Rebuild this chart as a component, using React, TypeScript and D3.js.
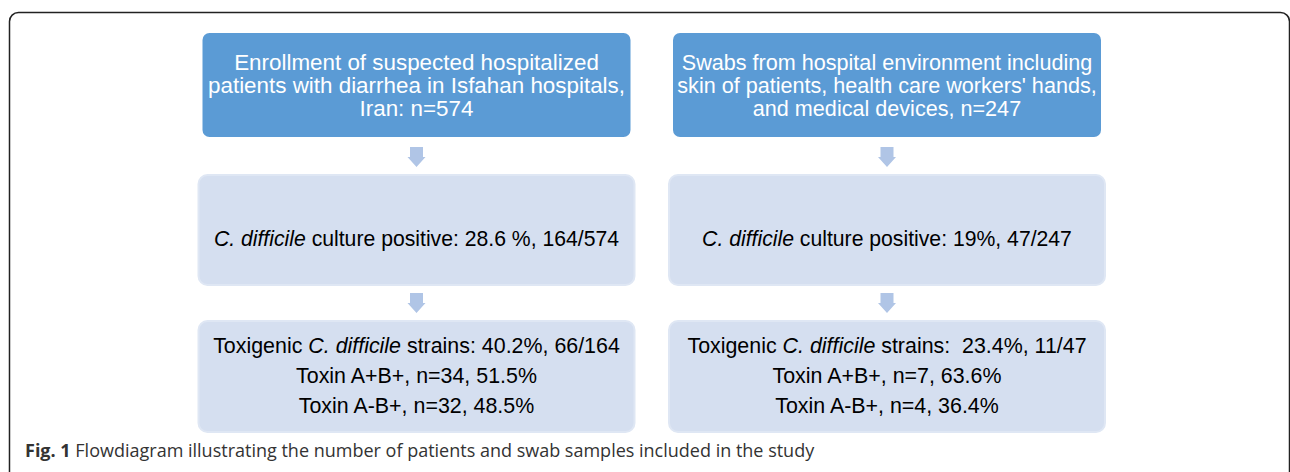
import React from "react";
import * as d3 from "d3";

// flow columns
const columns = ["patients", "swabs"];

// top (source) boxes, one line per row
const sourceLines = [
  ["Enrollment of suspected hospitalized", "patients with diarrhea in Isfahan hospitals,", "Iran: n=574"],
  ["Swabs from hospital environment including", "skin of patients, health care workers' hands,", "and medical devices, n=247"],
];

// culture positive: [percent text, fraction]
const culturePct = ["28.6 %", "19%"];
const cultureFrac = ["164/574", "47/247"];

// toxigenic strains
const toxigenicPct = ["40.2%", " 23.4%"];
const toxigenicFrac = ["66/164", "11/47"];
const toxinABn = [34, 7];
const toxinABpct = ["51.5%", "63.6%"];
const toxinBn = [32, 4];
const toxinBpct = ["48.5%", "36.4%"];

const caption = "Flowdiagram illustrating the number of patients and swab samples included in the study";

const W = 1290;
const H = 472;
const FONT = "'Liberation Sans', Arial, sans-serif";

export default function App() {
  const x = d3.scalePoint<string>().domain(columns).range([416.5, 887]);
  const sourceSize = [22.4, 21.6];

  // rows: [top, bottom]
  const rows = {
    source: [33, 137],
    culture: [175, 285],
    toxin: [321, 432],
  };
  const arrows = [
    [147, 167],
    [293, 313],
  ];

  const arrowPath = (cx: number, y0: number, y1: number) => {
    const p = d3.path();
    const sw = 6.5;
    const hw = 9;
    const hy = y1 - 10;
    p.moveTo(cx - sw, y0);
    p.lineTo(cx + sw, y0);
    p.lineTo(cx + sw, hy);
    p.lineTo(cx + hw, hy);
    p.lineTo(cx, y1);
    p.lineTo(cx - hw, hy);
    p.lineTo(cx - sw, hy);
    p.closePath();
    return p.toString();
  };

  return (
    <svg
      width={W}
      height={H}
      style={{ position: "absolute", left: 0, top: 0, display: "block", background: "#fff" }}
    >
      <rect x={9.5} y={12.5} width={1280} height={520} rx={9} fill="none" stroke="#222" strokeWidth={1.5} />

      {columns.map((c, i) => {
        const cx = x(c)!;
        return (
          <g key={c}>
            {/* source box */}
            <rect
              x={cx - 214}
              y={rows.source[0]}
              width={428}
              height={rows.source[1] - rows.source[0]}
              rx={7}
              fill="#5B9BD5"
            />
            {sourceLines[i].map((t, j) => (
              <text
                key={j}
                x={cx}
                y={69.5 + j * 23}
                textAnchor="middle"
                fontFamily={FONT}
                fontSize={sourceSize[i]}
                fill="#fff"
              >
                {t}
              </text>
            ))}

            {arrows.map((a, k) => (
              <path key={k} d={arrowPath(cx, a[0], a[1])} fill="#B0C5E6" />
            ))}

            {/* culture box */}
            <rect
              x={cx - 218}
              y={rows.culture[0]}
              width={436}
              height={rows.culture[1] - rows.culture[0]}
              rx={9}
              fill="#D5DFF0"
              stroke="#DFE7F4"
              strokeWidth={2}
            />
            <text x={cx} y={246} textAnchor="middle" fontFamily={FONT} fontSize={21.2} fill="#000">
              <tspan fontStyle="italic">C. difficile</tspan>
              {` culture positive: ${culturePct[i]}, ${cultureFrac[i]}`}
            </text>

            {/* toxin box */}
            <rect
              x={cx - 218}
              y={rows.toxin[0]}
              width={436}
              height={rows.toxin[1] - rows.toxin[0]}
              rx={9}
              fill="#D5DFF0"
              stroke="#DFE7F4"
              strokeWidth={2}
            />
            <text
              x={cx}
              y={352.5}
              textAnchor="middle"
              fontFamily={FONT}
              fontSize={21.4}
              fill="#000"
              style={{ whiteSpace: "pre" }}
            >
              {"Toxigenic "}
              <tspan fontStyle="italic">C. difficile</tspan>
              {` strains: ${toxigenicPct[i]}, ${toxigenicFrac[i]}`}
            </text>
            <text x={cx} y={382.7} textAnchor="middle" fontFamily={FONT} fontSize={21.4} fill="#000">
              {`Toxin A+B+, n=${toxinABn[i]}, ${toxinABpct[i]}`}
            </text>
            <text x={cx} y={413} textAnchor="middle" fontFamily={FONT} fontSize={21.4} fill="#000">
              {`Toxin A-B+, n=${toxinBn[i]}, ${toxinBpct[i]}`}
            </text>
          </g>
        );
      })}

      <text x={25} y={456.5} fontFamily="'Open Sans', sans-serif" fontSize={18} fill="#333">
        <tspan fontWeight="bold">Fig. 1</tspan>
        {` ${caption}`}
      </text>
    </svg>
  );
}
